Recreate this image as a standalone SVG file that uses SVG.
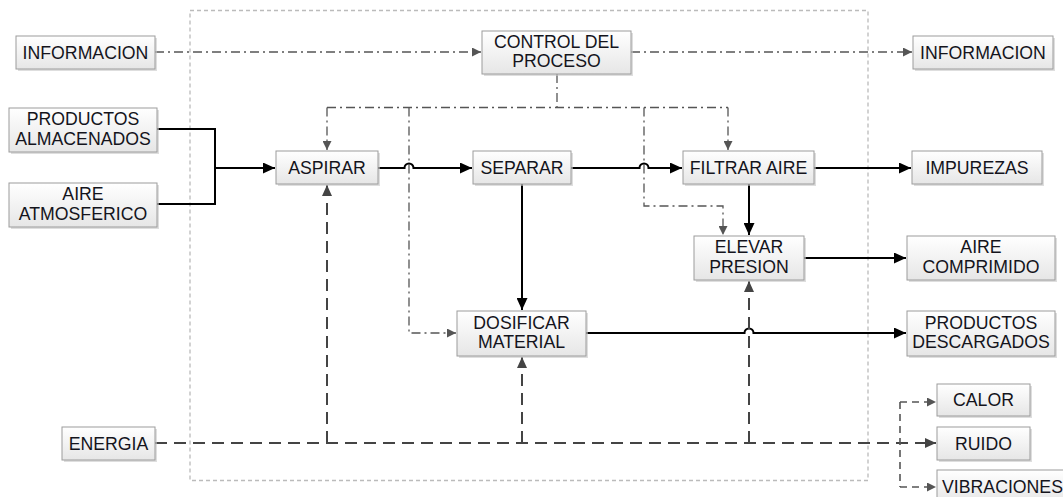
<svg xmlns="http://www.w3.org/2000/svg" width="1063" height="497" viewBox="0 0 1063 497">
<style>
.box{fill:url(#g);stroke:#9c9c9c;stroke-width:1}
.sh{fill:#c8c8c8;opacity:.6}
text{font-family:"Liberation Sans",Arial,sans-serif;font-size:17.7px;fill:#14141c;text-anchor:middle}
.solid{fill:none;stroke:#000;stroke-width:2}
.dd{fill:none;stroke:#555;stroke-width:1.3;stroke-dasharray:9 4 2 4}
.en{fill:none;stroke:#444;stroke-width:2;stroke-dasharray:12 7}
.fk{fill:none;stroke:#555;stroke-width:1.6;stroke-dasharray:7 5}
.bd{fill:none;stroke:#bbb;stroke-width:1.3;stroke-dasharray:4 3}
</style>
<defs>
<linearGradient id="g" x1="0" y1="0" x2="0" y2="1">
<stop offset="0" stop-color="#ffffff"/>
<stop offset="1" stop-color="#e6e6e6"/>
</linearGradient>
<marker id="ab" markerUnits="userSpaceOnUse" markerWidth="13" markerHeight="11" refX="12" refY="5.5" orient="auto"><path d="M0,0 L12,5.5 L0,11 z" fill="#000"/></marker>
<marker id="ag" markerUnits="userSpaceOnUse" markerWidth="10" markerHeight="9" refX="9" refY="4.5" orient="auto"><path d="M0,0 L9,4.5 L0,9 z" fill="#555"/></marker>
<marker id="ae" markerUnits="userSpaceOnUse" markerWidth="12" markerHeight="10" refX="11" refY="5" orient="auto"><path d="M0,0 L11,5 L0,10 z" fill="#444"/></marker>
</defs>
<rect width="1063" height="497" fill="#fff"/>
<rect class="bd" x="190" y="10.5" width="678" height="470"/>

<g id="connectors">
<path class="dd" d="M155 52 H481" marker-end="url(#ag)"/>
<path class="dd" d="M631 52 H912" marker-end="url(#ag)"/>
<path class="dd" d="M557 74 V107.5"/>
<path class="dd" d="M327 107.5 H728"/>
<path class="dd" d="M327 107.5 V150" marker-end="url(#ag)"/>
<path class="dd" d="M728 107.5 V150" marker-end="url(#ag)"/>
<path class="dd" d="M409 107.5 V333 H456" marker-end="url(#ag)"/>
<path class="dd" d="M644 107.5 V206 H723 V235" marker-end="url(#ag)"/>

<path class="solid" d="M157 129 H215 V204 H157"/>
<path class="solid" d="M215 168 H275" marker-end="url(#ab)"/>
<path class="solid" d="M378 168 H404.5 A4.5 4.5 0 0 1 413.5 168 H472" marker-end="url(#ab)"/>
<path class="solid" d="M571 168 H639.5 A4.5 4.5 0 0 1 648.5 168 H682" marker-end="url(#ab)"/>
<path class="solid" d="M814 168 H911" marker-end="url(#ab)"/>
<path class="solid" d="M522 184 V310" marker-end="url(#ab)"/>
<path class="solid" d="M749 184 V235" marker-end="url(#ab)"/>
<path class="solid" d="M804 258 H906" marker-end="url(#ab)"/>
<path class="solid" d="M586 333 H744.5 A4.5 4.5 0 0 1 753.5 333 H906" marker-end="url(#ab)"/>

<path class="en" d="M155 443 H936" marker-end="url(#ae)"/>
<path class="en" d="M327 443 V185" marker-end="url(#ae)"/>
<path class="en" d="M522 443 V357" marker-end="url(#ae)"/>
<path class="en" d="M749 443 V281" marker-end="url(#ae)"/>
<path class="fk" d="M900 402 V487"/>
<path class="fk" d="M900 402 H936" marker-end="url(#ag)"/>
<path class="fk" d="M900 487 H936" marker-end="url(#ag)"/>
</g>

<g id="n-info-in"><rect class="sh" x="18" y="38" width="139" height="33"/><rect class="box" x="16" y="36" width="139" height="33"/><text x="85.5" y="58.5">INFORMACION</text></g>
<g id="n-prod-alm"><rect class="sh" x="11" y="110" width="148" height="44"/><rect class="box" x="9" y="108" width="148" height="44"/><text x="83" y="125.3">PRODUCTOS</text><text x="83" y="144.8">ALMACENADOS</text></g>
<g id="n-aire-atm"><rect class="sh" x="11" y="185" width="148" height="44"/><rect class="box" x="9" y="183" width="148" height="44"/><text x="83" y="200.3">AIRE</text><text x="83" y="219.8">ATMOSFERICO</text></g>
<g id="n-energia"><rect class="sh" x="64" y="429" width="93" height="33"/><rect class="box" x="62" y="427" width="93" height="33"/><text x="108.5" y="449.5">ENERGIA</text></g>
<g id="n-control"><rect class="sh" x="484" y="33" width="149" height="43"/><rect class="box" x="482" y="31" width="149" height="43"/><text x="556.5" y="48">CONTROL DEL</text><text x="556.5" y="67">PROCESO</text></g>
<g id="n-aspirar"><rect class="sh" x="278" y="153" width="102" height="33"/><rect class="box" x="276" y="151" width="102" height="33"/><text x="327" y="173.5">ASPIRAR</text></g>
<g id="n-separar"><rect class="sh" x="475" y="153" width="98" height="33"/><rect class="box" x="473" y="151" width="98" height="33"/><text x="522" y="173.5">SEPARAR</text></g>
<g id="n-filtrar"><rect class="sh" x="685" y="153" width="131" height="33"/><rect class="box" x="683" y="151" width="131" height="33"/><text x="748.5" y="173.5">FILTRAR AIRE</text></g>
<g id="n-elevar"><rect class="sh" x="696" y="238" width="110" height="44"/><rect class="box" x="694" y="236" width="110" height="44"/><text x="749" y="253.3">ELEVAR</text><text x="749" y="272.8">PRESION</text></g>
<g id="n-dosificar"><rect class="sh" x="459" y="313" width="129" height="45"/><rect class="box" x="457" y="311" width="129" height="45"/><text x="521.5" y="328.5">DOSIFICAR</text><text x="521.5" y="348">MATERIAL</text></g>
<g id="n-info-out"><rect class="sh" x="915" y="38" width="140" height="33"/><rect class="box" x="913" y="36" width="140" height="33"/><text x="983" y="58.5">INFORMACION</text></g>
<g id="n-impurezas"><rect class="sh" x="914" y="153" width="130" height="33"/><rect class="box" x="912" y="151" width="130" height="33"/><text x="977" y="173.5">IMPUREZAS</text></g>
<g id="n-aire-comp"><rect class="sh" x="909" y="238" width="148" height="44"/><rect class="box" x="907" y="236" width="148" height="44"/><text x="981" y="253.3">AIRE</text><text x="981" y="272.8">COMPRIMIDO</text></g>
<g id="n-prod-desc"><rect class="sh" x="909" y="313" width="148" height="45"/><rect class="box" x="907" y="311" width="148" height="45"/><text x="981" y="328.5">PRODUCTOS</text><text x="981" y="348">DESCARGADOS</text></g>
<g id="n-calor"><rect class="sh" x="939" y="386" width="93" height="32"/><rect class="box" x="937" y="384" width="93" height="32"/><text x="983.5" y="406">CALOR</text></g>
<g id="n-ruido"><rect class="sh" x="939" y="429" width="93" height="33"/><rect class="box" x="937" y="427" width="93" height="33"/><text x="983.5" y="449.5">RUIDO</text></g>
<g id="n-vibr"><rect class="sh" x="939" y="472" width="134" height="33"/><rect class="box" x="937" y="470" width="134" height="33"/><text x="1002.5" y="492.5">VIBRACIONES</text></g>
</svg>
